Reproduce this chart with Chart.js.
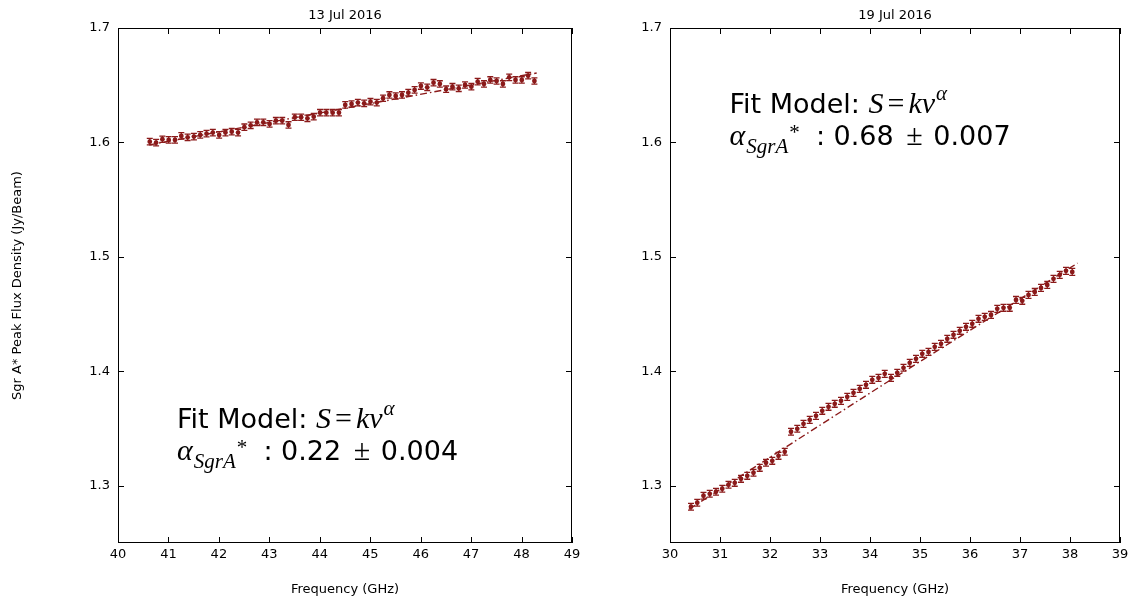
<!DOCTYPE html>
<html>
<head>
<meta charset="utf-8">
<script src="https://cdn.jsdelivr.net/npm/chart.js@4.4.0/dist/chart.umd.min.js"></script>
<style>
  body{margin:0;background:#fff;width:1130px;height:603px;overflow:hidden;position:relative}
  .box{position:absolute;top:0;height:603px}
  #b1{left:0;width:590px}
  #b2{left:590px;width:540px}
</style>
</head>
<body>
<div class="box" id="b1"><canvas id="c1"></canvas></div>
<div class="box" id="b2"><canvas id="c2"></canvas></div>
<script>
// 13 Jul 2016
const freqJul13=[40.630,40.755,40.880,41.005,41.130,41.255,41.380,41.505,41.630,41.755,
  41.880,42.005,42.130,42.255,42.380,42.505,42.630,42.755,42.880,43.005,
  43.130,43.255,43.380,43.505,43.630,43.755,43.880,44.005,44.130,44.255,
  44.380,44.505,44.630,44.755,44.880,45.005,45.130,45.255,45.380,45.505,
  45.630,45.755,45.880,46.005,46.130,46.255,46.380,46.505,46.630,46.755,
  46.880,47.005,47.130,47.255,47.380,47.505,47.630,47.755,47.880,48.005,
  48.130,48.255];
const fluxJul13=[1.6007,1.5998,1.6028,1.6022,1.6022,1.6057,1.6045,1.6051,1.6066,1.6077,
  1.6086,1.6066,1.6086,1.6094,1.6086,1.6133,1.6150,1.6176,1.6176,1.6162,
  1.6190,1.6190,1.6153,1.6220,1.6220,1.6211,1.6225,1.6260,1.6260,1.6260,
  1.6260,1.6328,1.6336,1.6348,1.6342,1.6356,1.6348,1.6386,1.6415,1.6406,
  1.6415,1.6435,1.6459,1.6493,1.6482,1.6522,1.6511,1.6465,1.6487,1.6473,
  1.6502,1.6487,1.6531,1.6511,1.6546,1.6537,1.6511,1.6569,1.6546,1.6546,
  1.6583,1.6537];
const errJul13=0.0028;
const fitFreqJul13=[40.62,44.5,48.3];
const fitFluxJul13=[1.5978,1.6299,1.6607];

// 19 Jul 2016
const freqJul19=[30.420,30.545,30.670,30.795,30.920,31.045,31.170,31.295,31.420,31.545,
  31.670,31.795,31.920,32.045,32.170,32.295,32.420,32.545,32.670,32.795,
  32.920,33.045,33.170,33.295,33.420,33.545,33.670,33.795,33.920,34.045,
  34.170,34.295,34.420,34.545,34.670,34.795,34.920,35.045,35.170,35.295,
  35.420,35.545,35.670,35.795,35.920,36.045,36.170,36.295,36.420,36.545,
  36.670,36.795,36.920,37.045,37.170,37.295,37.420,37.545,37.670,37.795,
  37.920,38.045];
const fluxJul19=[1.2817,1.2852,1.2913,1.2930,1.2948,1.2974,1.3009,1.3026,1.3061,1.3087,
  1.3114,1.3157,1.3201,1.3218,1.3262,1.3297,1.3472,1.3498,1.3541,1.3576,
  1.3611,1.3655,1.3690,1.3716,1.3742,1.3777,1.3812,1.3847,1.3882,1.3926,
  1.3943,1.3978,1.3943,1.3987,1.4031,1.4074,1.4109,1.4153,1.4170,1.4214,
  1.4240,1.4284,1.4319,1.4354,1.4389,1.4415,1.4459,1.4476,1.4493,1.4546,
  1.4555,1.4555,1.4624,1.4616,1.4668,1.4694,1.4729,1.4755,1.4808,1.4843,
  1.4878,1.4869];
const errJul19=0.003;
const fitFreqJul19=[30.38,34.3,38.15];
const fitFluxJul19=[1.2795,1.3894,1.4945];

const xTicksJul13=[40,41,42,43,44,45,46,47,48,49];
const xTicksJul19=[30,31,32,33,34,35,36,37,38,39];
const yTicks=[1.3,1.4,1.5,1.6,1.7];

const RED='#8b1a1a';
const FONT='"DejaVu Sans", sans-serif';

// cadre, graduations vers l'intérieur, barres d'erreur et texte du fit
const framePlugin={
  id:'frame',
  afterDatasetsDraw(chart,args,opts){
    const ctx=chart.ctx, xs=chart.scales.x, ys=chart.scales.y;
    const pts=chart.data.datasets[0].data;
    ctx.save();
    ctx.strokeStyle=RED;
    ctx.lineWidth=1.3;
    pts.forEach(p=>{
      const px=xs.getPixelForValue(p.x);
      const y1=ys.getPixelForValue(p.y+opts.err);
      const y2=ys.getPixelForValue(p.y-opts.err);
      ctx.beginPath();
      ctx.moveTo(px,y1);ctx.lineTo(px,y2);
      ctx.moveTo(px-3,y1);ctx.lineTo(px+3,y1);
      ctx.moveTo(px-3,y2);ctx.lineTo(px+3,y2);
      ctx.stroke();
    });
    ctx.restore();
  },
  afterDraw(chart,args,opts){
    const ctx=chart.ctx, a=chart.chartArea, xs=chart.scales.x, ys=chart.scales.y;
    ctx.save();
    ctx.strokeStyle='#000';
    ctx.lineWidth=1;
    ctx.strokeRect(Math.round(a.left)+0.5,Math.round(a.top)+0.5,Math.round(a.width)-1,Math.round(a.height)-1);
    ctx.beginPath();
    opts.xTicks.forEach(v=>{
      const px=Math.round(xs.getPixelForValue(v))+0.5;
      ctx.moveTo(px,a.bottom);ctx.lineTo(px,a.bottom-6);
      ctx.moveTo(px,a.top);ctx.lineTo(px,a.top+6);
    });
    yTicks.forEach(v=>{
      const py=Math.round(ys.getPixelForValue(v))+0.5;
      ctx.moveTo(a.left,py);ctx.lineTo(a.left+6,py);
      ctx.moveTo(a.right,py);ctx.lineTo(a.right-6,py);
    });
    ctx.stroke();

    // texte "Fit Model"
    const n=opts.note;
    let x0=xs.getPixelForValue(n.x), y0=ys.getPixelForValue(n.y);
    let cx=x0;
    const put=(t,font,dy)=>{ctx.font=font;ctx.fillText(t,cx,y0+(dy||0));cx+=ctx.measureText(t).width;};
    ctx.fillStyle='#000';
    ctx.textAlign='left';
    ctx.textBaseline='alphabetic';
    const sans='27px '+FONT;
    const it='italic 30px "Liberation Serif"';
    const up='30px "Liberation Serif"';
    const sm='italic 21px "Liberation Serif"';
    put('Fit Model: ',sans);
    put('S',it);cx+=4;put('=',up);cx+=4;put('k',it);put('ν',it);cx+=1;put('α',sm,-13);
    y0+=32;cx=x0;
    put('α',it);cx+=1;put('SgrA',sm,8);put('*',sm,-6);
    put('  : '+n.alpha+' ',sans);cx+=4;put('±',up);cx+=2;put(' '+n.err,sans);
    ctx.restore();
  }
};

function makeChart(id,cfg){
  const tickFont={family:FONT,size:13};
  return new Chart(document.getElementById(id),{
    type:'scatter',
    data:{
      datasets:[{
        data:cfg.freq.map((f,i)=>({x:f,y:cfg.flux[i]})),
        pointRadius:2.4,
        pointBackgroundColor:RED,
        pointBorderWidth:0,
        showLine:false
      },{
        data:cfg.fitFreq.map((f,i)=>({x:f,y:cfg.fitFlux[i]})),
        showLine:true,
        pointRadius:0,
        borderColor:RED,
        borderWidth:1.4,
        borderDash:[7,3,1.5,3],
        tension:0
      }]
    },
    options:{
      responsive:true,
      maintainAspectRatio:false,
      animation:false,
      layout:{padding:{left:0,right:cfg.padRight,top:0,bottom:0}},
      plugins:{
        legend:{display:false},
        tooltip:{enabled:false},
        title:{display:true,text:cfg.title,color:'#000',fullSize:false,
          font:{family:FONT,size:13,weight:'normal'},padding:{top:8,bottom:4.4}},
        frame:{err:cfg.err,xTicks:cfg.xTicks,note:cfg.note}
      },
      scales:{
        x:{
          type:'linear',min:cfg.xTicks[0],max:cfg.xTicks[cfg.xTicks.length-1],
          afterBuildTicks:s=>{s.ticks=cfg.xTicks.map(v=>({value:v}));},
          afterFit:s=>{s.height=60;s.paddingLeft=0;s.paddingRight=0;},
          grid:{display:false,drawTicks:false},
          border:{display:false},
          ticks:{color:'#000',font:tickFont,padding:4,maxRotation:0,autoSkip:false,callback:v=>String(v)},
          title:{display:true,text:'Frequency (GHz)',color:'#000',font:tickFont,padding:{top:0,bottom:6}}
        },
        y:{
          type:'linear',min:1.25,max:1.7,
          afterBuildTicks:s=>{s.ticks=yTicks.map(v=>({value:v}));},
          afterFit:s=>{s.width=cfg.yWidth;s.paddingTop=0;s.paddingBottom=0;},
          grid:{display:false,drawTicks:false},
          border:{display:false},
          ticks:{color:'#000',font:tickFont,padding:8,callback:v=>v.toFixed(1)},
          title:{display:cfg.yTitle!=null,text:cfg.yTitle||'',color:'#000',font:tickFont,padding:{top:10,bottom:0}}
        }
      }
    },
    plugins:[framePlugin]
  });
}

makeChart('c1',{
  title:'13 Jul 2016',freq:freqJul13,flux:fluxJul13,err:errJul13,
  fitFreq:fitFreqJul13,fitFlux:fitFluxJul13,xTicks:xTicksJul13,
  yWidth:118,padRight:18,yTitle:'Sgr A* Peak Flux Density (Jy/Beam)',
  note:{x:41.17,y:1.3507,alpha:'0.22',err:'0.004'}
});
makeChart('c2',{
  title:'19 Jul 2016',freq:freqJul19,flux:fluxJul19,err:errJul19,
  fitFreq:fitFreqJul19,fitFlux:fitFluxJul19,xTicks:xTicksJul19,
  yWidth:80,padRight:10,yTitle:null,
  note:{x:31.19,y:1.6258,alpha:'0.68',err:'0.007'}
});
</script>
</body>
</html>
